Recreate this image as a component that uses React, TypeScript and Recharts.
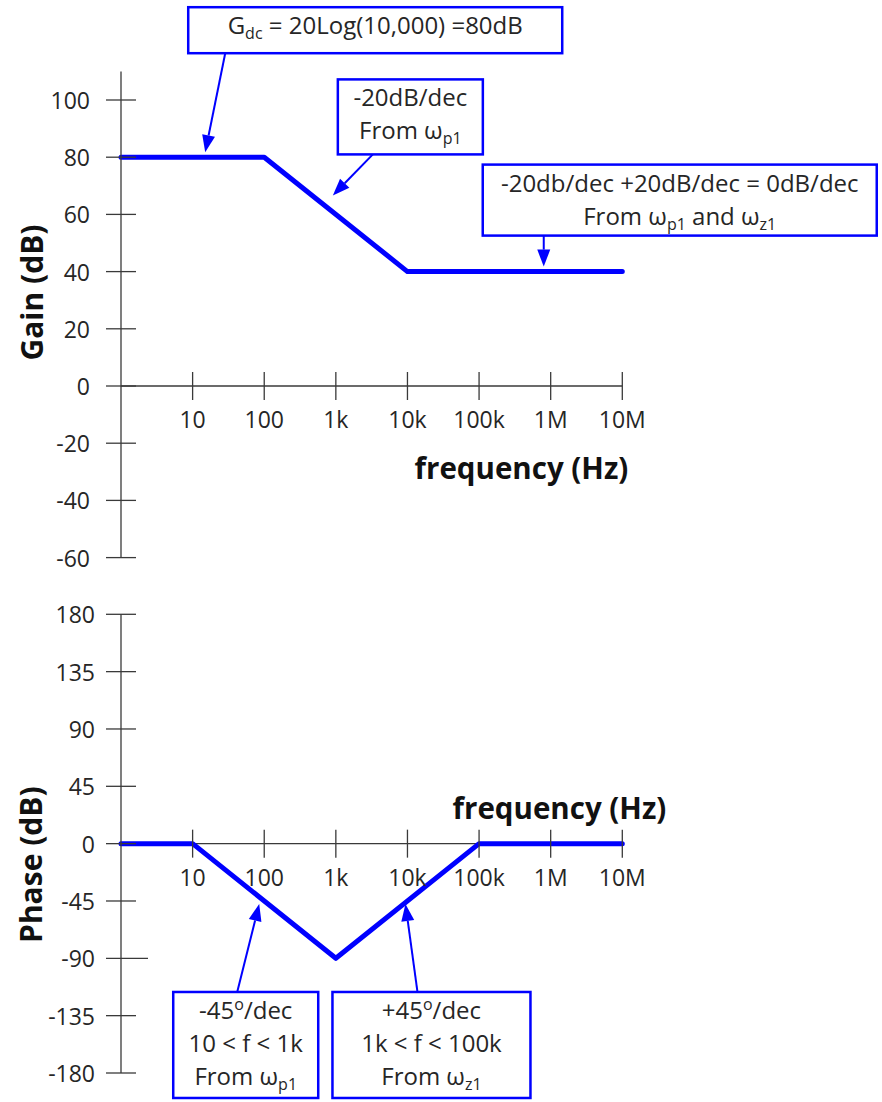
import React from "react";
import { LineChart, Line, XAxis, YAxis, ReferenceLine, ReferenceDot } from "recharts";

// asymptotic Bode plot, one pole at 100 Hz and one zero at 10 kHz
const gainFreq = [1, 100, 10000, 10000000];
const gainDb = [80, 80, 40, 40];
const phaseFreq = [1, 10, 1000, 100000, 10000000];
const phaseDeg = [0, 0, -90, 0, 0];

const freqTicks = [10, 100, 1000, 10000, 100000, 1000000, 10000000];
const freqTickLabels = ["10", "100", "1k", "10k", "100k", "1M", "10M"];
const gainTicks = [100, 80, 60, 40, 20, 0, -20, -40, -60];
const phaseTicks = [180, 135, 90, 45, 0, -45, -90, -135, -180];

// callout texts: _{..} is a subscript, ^{..} a superscript
const gainNotes = [
  { f: 15, v: 80, lines: ["G_{dc} = 20Log(10,000) =80dB"] },
  { f: 1000, v: 60, lines: ["-20dB/dec", "From ω_{p1}"] },
  { f: 800000, v: 40, lines: ["-20db/dec +20dB/dec = 0dB/dec", "From ω_{p1} and ω_{z1}"] },
];
const phaseNotes = [
  { f: 100, v: -45, lines: ["-45^{o}/dec", "10 < f < 1k", "From ω_{p1}"] },
  { f: 10000, v: -45, lines: ["+45^{o}/dec", "1k < f < 100k", "From ω_{z1}"] },
];

const BLUE = "#0000ff";
const AXIS = "#3a3a3a";
const INK = "#262626";
const FONT = "'Open Sans', sans-serif";

// box [dx, dy, w, h], arrow tip and tail, all relative to the anchor point
const gainNoteLayout = [
  { box: [-17, -150, 374, 46], tip: [0, -5], tail: [20, -104] },
  { box: [2, -135, 145, 75], tip: [-3, -19], tail: [37, -60] },
  { box: [-61, -107, 394, 71], tip: [0, -5], tail: [0, -36] },
];
const phaseNoteLayout = [
  { box: [-91, 91, 145, 106], tip: [-5, 3], tail: [-27, 91] },
  { box: [-75, 91, 198, 106], tip: [-2, 3], tail: [10, 91] },
];

const rich = (s: string) => {
  const parts = s.split(/(_\{[^}]*\}|\^\{[^}]*\})/).filter((p) => p !== "");
  let shift = 0;
  return parts.map((p, i) => {
    if (p.startsWith("_{") || p.startsWith("^{")) {
      const d = p[0] === "_" ? 5 : -9;
      const el = (
        <tspan key={i} fontSize={16} dy={d - shift}>
          {p.slice(2, -1)}
        </tspan>
      );
      shift = d;
      return el;
    }
    const el = (
      <tspan key={i} dy={-shift}>
        {p}
      </tspan>
    );
    shift = 0;
    return el;
  });
};

const Note = (props: any) => {
  const { cx, cy, lines, layout } = props;
  const { box, tip, tail } = layout;
  const tx = cx + tip[0];
  const ty = cy + tip[1];
  const sx = cx + tail[0];
  const sy = cy + tail[1];
  const len = Math.hypot(tx - sx, ty - sy);
  const ux = (tx - sx) / len;
  const uy = (ty - sy) / len;
  const bx = tx - ux * 17;
  const by = ty - uy * 17;
  const head = `${tx},${ty} ${bx - uy * 6.5},${by + ux * 6.5} ${bx + uy * 6.5},${by - ux * 6.5}`;
  const left = cx + box[0];
  const top = cy + box[1];
  return (
    <g>
      <line x1={sx} y1={sy} x2={bx} y2={by} stroke={BLUE} strokeWidth={2} />
      <polygon points={head} fill={BLUE} />
      <rect x={left} y={top} width={box[2]} height={box[3]} fill="#fff" stroke={BLUE} strokeWidth={2.5} />
      {lines.map((ln: string, i: number) => (
        <text
          key={i}
          x={left + box[2] / 2}
          y={top + 27 + i * 33}
          textAnchor="middle"
          fontFamily={FONT}
          fontSize={24}
          fill={INK}
        >
          {rich(ln)}
        </text>
      ))}
    </g>
  );
};

const makeYTick = (gap: number, longTick?: number) => (props: any) => {
  const { x, y, payload } = props;
  const right = payload.value === longTick ? 27 : 15;
  return (
    <g>
      <line x1={x - 15} x2={x + right} y1={y} y2={y} stroke={AXIS} strokeWidth={1.3} />
      <text x={x - gap} y={y} textAnchor="end" dominantBaseline="central" fontFamily={FONT} fontSize={23} fill={INK}>
        {payload.value}
      </text>
    </g>
  );
};

const XTick = (props: any) => {
  const { cx, cy, label } = props;
  return (
    <g>
      <line x1={cx} x2={cx} y1={cy - 14} y2={cy + 14} stroke={AXIS} strokeWidth={1.3} />
      <text x={cx} y={cy + 33} textAnchor="middle" dominantBaseline="central" fontFamily={FONT} fontSize={23} fill={INK}>
        {label}
      </text>
    </g>
  );
};

const axisTitle = (text: string, lift: number) => (p: any) => {
  const vb = p.viewBox || { y: 0, height: 0 };
  const cy = vb.y + vb.height / 2 - lift;
  return (
    <text
      x={31}
      y={cy}
      transform={`rotate(-90 31 ${cy})`}
      textAnchor="middle"
      dominantBaseline="central"
      fontFamily={FONT}
      fontWeight={700}
      fontSize={30}
      fill="#111"
    >
      {text}
    </text>
  );
};

const freqTitle = (dx: number, dy: number) => (p: any) => (
  <text
    x={p.cx + dx}
    y={p.cy + dy}
    textAnchor="end"
    dominantBaseline="central"
    fontFamily={FONT}
    fontWeight={700}
    fontSize={29.5}
    fill="#111"
  >
    frequency (Hz)
  </text>
);

const App = () => {
  const gainData = gainFreq.map((f, i) => ({ f, v: gainDb[i] }));
  const phaseData = phaseFreq.map((f, i) => ({ f, v: phaseDeg[i] }));

  return (
    <div style={{ position: "absolute", left: 0, top: 0, width: 882, height: 1102, background: "#fff" }}>
      <LineChart width={882} height={585} data={gainData} margin={{ top: 71.4, right: 259.7, bottom: 27.4, left: 0 }}>
        <XAxis dataKey="f" type="number" scale="log" domain={[1, 10000000]} hide />
        <YAxis
          type="number"
          domain={[-60, 110]}
          ticks={gainTicks}
          interval={0}
          width={121}
          tickSize={0}
          tickMargin={0}
          tickLine={false}
          axisLine={{ stroke: AXIS, strokeWidth: 1.3 }}
          tick={makeYTick(31)}
          label={{ value: "Gain (dB)", content: axisTitle("Gain (dB)", 22) }}
        />
        <ReferenceLine y={0} stroke={AXIS} strokeWidth={1.3} />
        {freqTicks.map((f, i) => (
          <ReferenceDot key={f} x={f} y={0} r={2} ifOverflow="visible" shape={(p: any) => <XTick {...p} label={freqTickLabels[i]} />} />
        ))}
        <ReferenceDot x={10000000} y={0} r={2} ifOverflow="visible" shape={freqTitle(6, 81)} />
        <Line
          dataKey="v"
          type="linear"
          stroke={BLUE}
          strokeWidth={5}
          strokeLinecap="round"
          strokeLinejoin="round"
          dot={false}
          activeDot={false}
          isAnimationActive={false}
        />
        {gainNotes.map((n, i) => (
          <ReferenceDot
            key={i}
            x={n.f}
            y={n.v}
            r={2}
            ifOverflow="visible"
            shape={(p: any) => <Note {...p} lines={n.lines} layout={gainNoteLayout[i]} />}
          />
        ))}
      </LineChart>
      <LineChart width={882} height={517} data={phaseData} margin={{ top: 29.3, right: 259.7, bottom: 29, left: 0 }}>
        <XAxis dataKey="f" type="number" scale="log" domain={[1, 10000000]} hide />
        <YAxis
          type="number"
          domain={[-180, 180]}
          ticks={phaseTicks}
          interval={0}
          width={121}
          tickSize={0}
          tickMargin={0}
          tickLine={false}
          axisLine={{ stroke: AXIS, strokeWidth: 1.3 }}
          tick={makeYTick(26, -90)}
          label={{ value: "Phase (dB)", content: axisTitle("Phase (dB)", -21) }}
        />
        <ReferenceLine y={0} stroke={AXIS} strokeWidth={1.3} />
        {freqTicks.map((f, i) => (
          <ReferenceDot key={f} x={f} y={0} r={2} ifOverflow="visible" shape={(p: any) => <XTick {...p} label={freqTickLabels[i]} />} />
        ))}
        <ReferenceDot x={10000000} y={0} r={2} ifOverflow="visible" shape={freqTitle(44, -36)} />
        <Line
          dataKey="v"
          type="linear"
          stroke={BLUE}
          strokeWidth={5}
          strokeLinecap="round"
          strokeLinejoin="round"
          dot={false}
          activeDot={false}
          isAnimationActive={false}
        />
        {phaseNotes.map((n, i) => (
          <ReferenceDot
            key={i}
            x={n.f}
            y={n.v}
            r={2}
            ifOverflow="visible"
            shape={(p: any) => <Note {...p} lines={n.lines} layout={phaseNoteLayout[i]} />}
          />
        ))}
      </LineChart>
    </div>
  );
};

export default App;
